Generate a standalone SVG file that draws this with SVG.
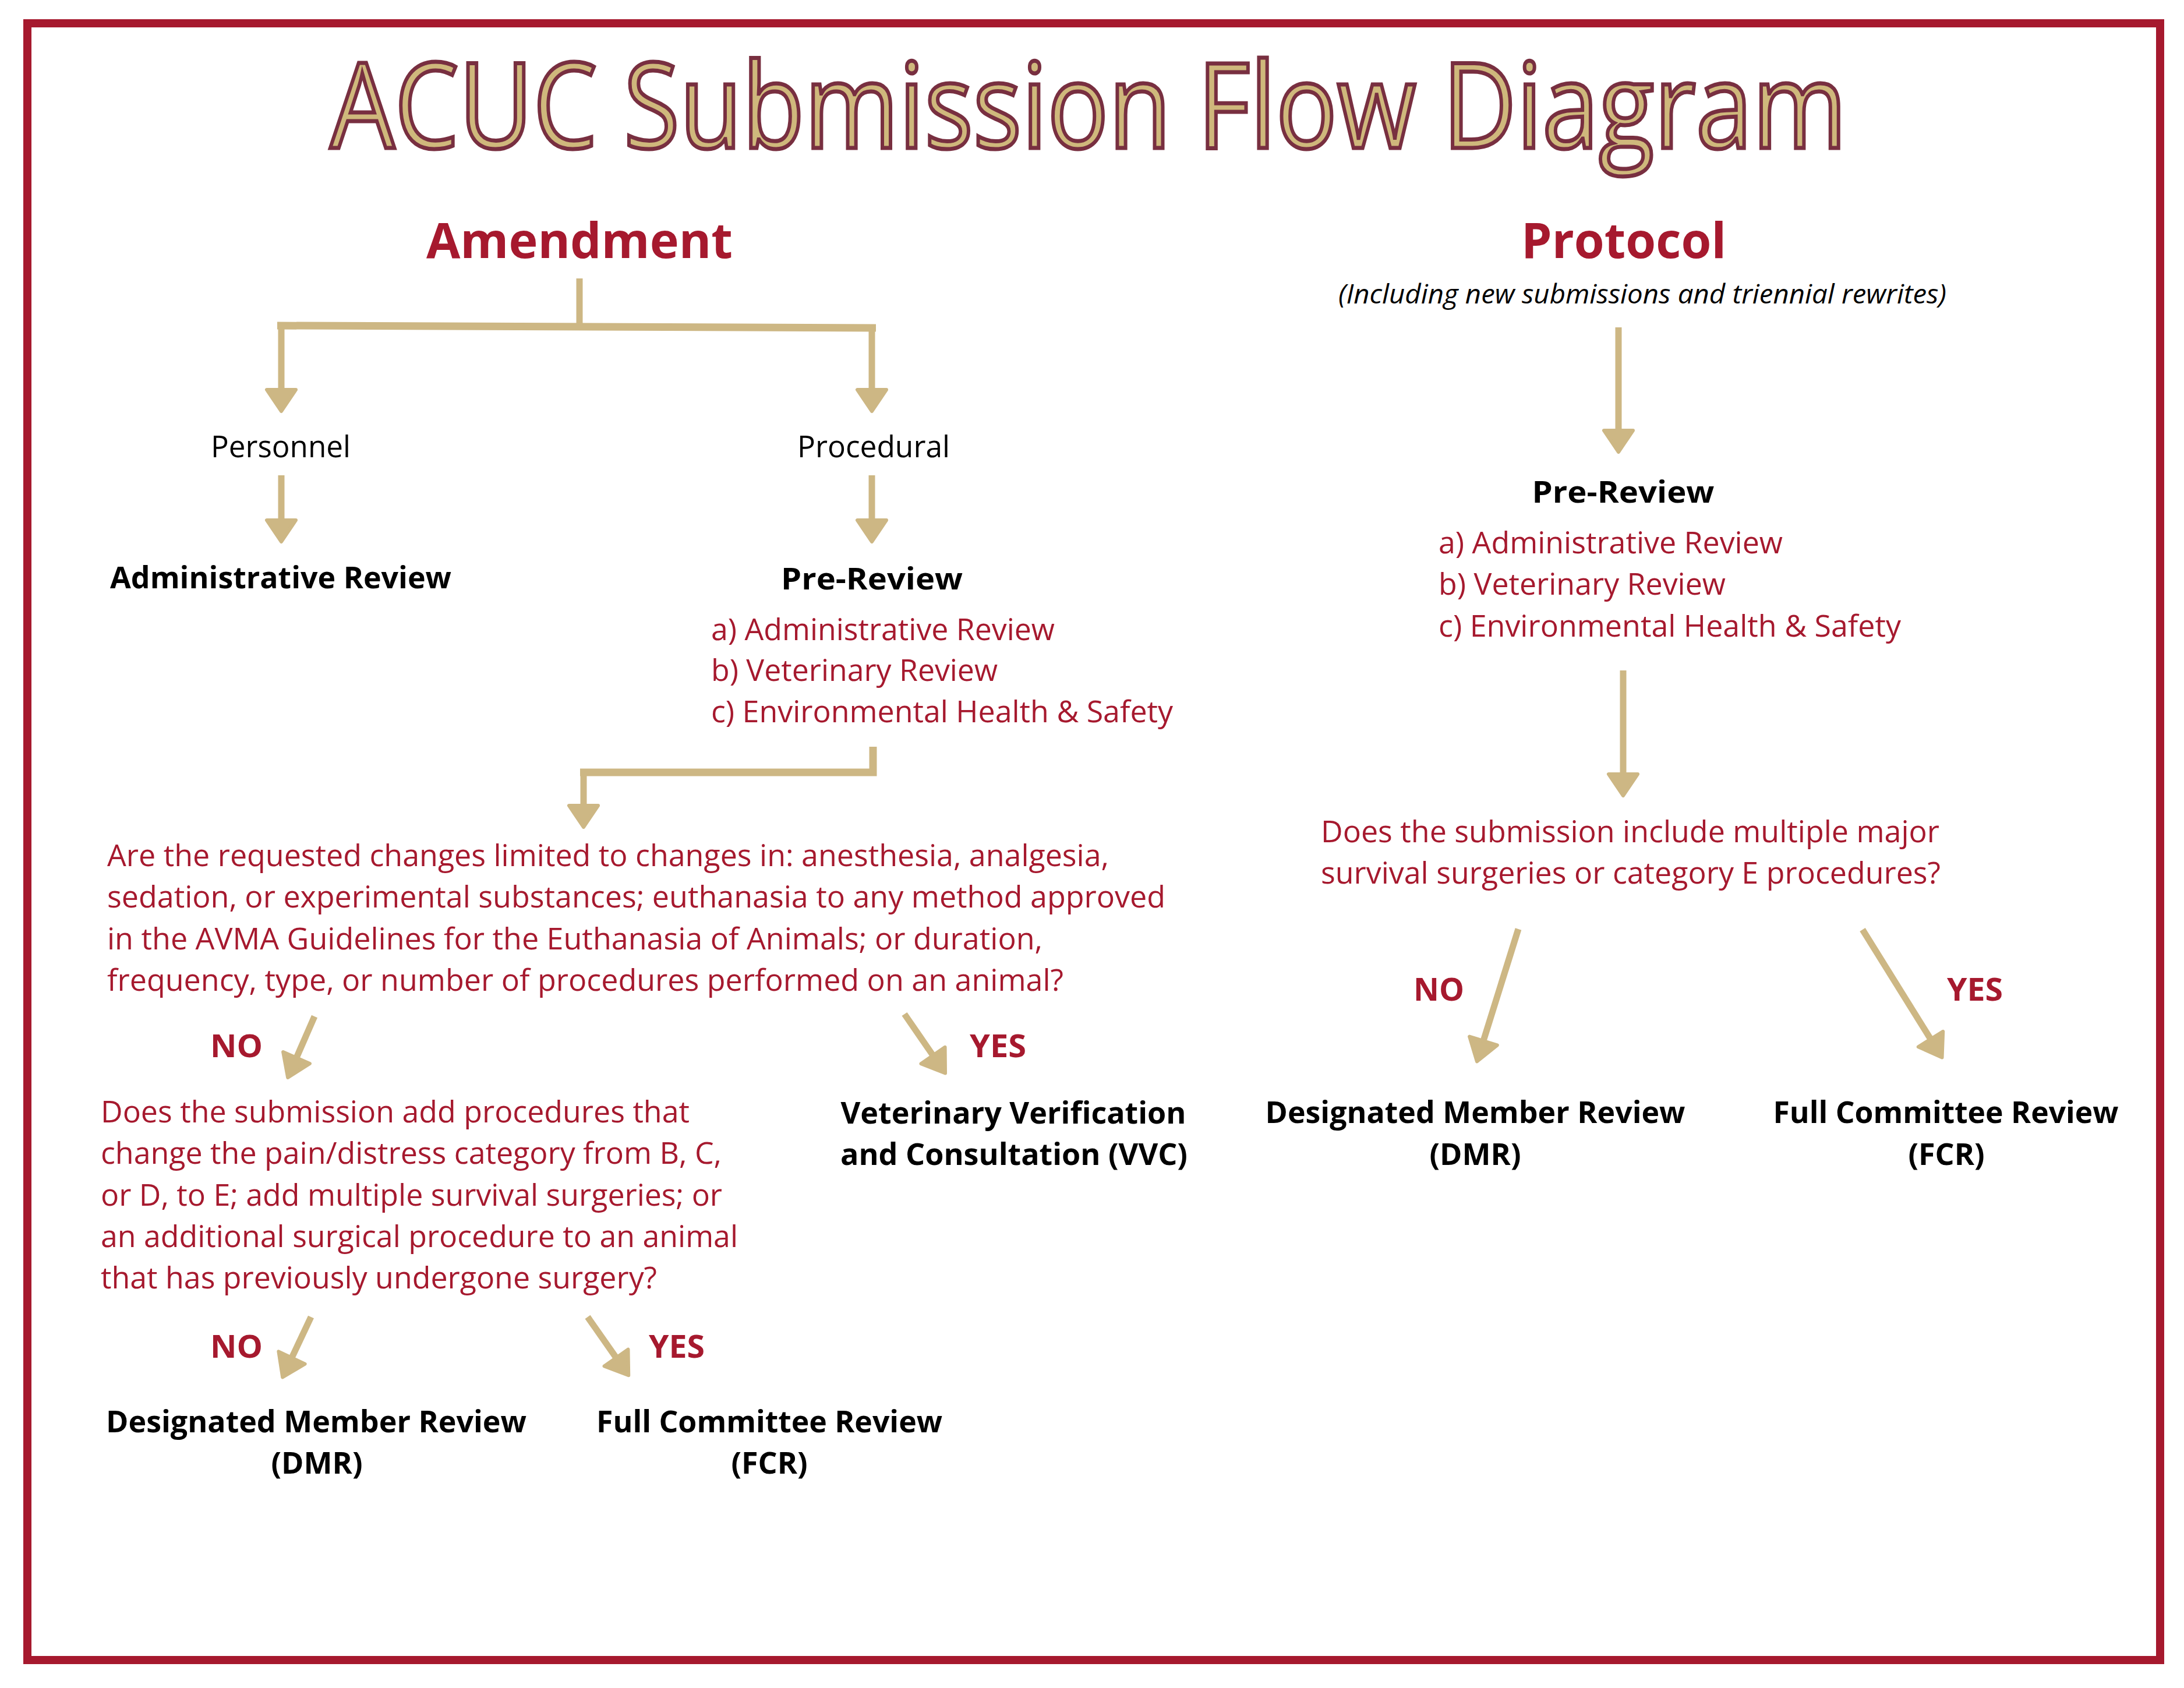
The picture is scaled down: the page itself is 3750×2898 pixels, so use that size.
<svg xmlns="http://www.w3.org/2000/svg" width="3750" height="2898" viewBox="0 0 3750 2898">
<style>
text{font-family:'Open Sans','Noto Sans','DejaVu Sans',sans-serif;}
.n{font-size:51px;fill:#000;}
.r{font-size:51px;fill:#A6192E;}
.b{font-size:52px;font-weight:700;fill:#000;}
.lab{font-size:53px;font-weight:700;fill:#A6192E;}
.h{font-size:84px;font-weight:700;fill:#A6192E;}
.c{text-anchor:middle;}
.ln{stroke:#CDB784;fill:none;stroke-width:11;}
.thick{stroke-width:13;}
</style>
<defs>
<marker id="ah" markerUnits="userSpaceOnUse" markerWidth="60" markerHeight="70" refX="3" refY="35" orient="auto" style="overflow:visible">
<path d="M3,10 L40,35 L3,60 Z" fill="#CDB784" stroke="#CDB784" stroke-width="6" stroke-linejoin="round"/>
</marker>
</defs>
<rect x="47" y="40" width="3662" height="2810" fill="#fff" stroke="#A6192E" stroke-width="14"/>

<g id="title">
<text x="567" y="254" font-size="204" fill="#CFB87C" stroke="#782F40" stroke-width="7" textLength="2604" lengthAdjust="spacingAndGlyphs">ACUC Submission Flow Diagram</text>
</g>

<g id="connectors">
<line class="ln" x1="995" y1="478" x2="995" y2="560" stroke-width="10"/>
<line class="ln thick" x1="476" y1="559" x2="1504" y2="563"/>
<line class="ln" x1="483" y1="559" x2="483" y2="669" marker-end="url(#ah)"/>
<line class="ln" x1="1497" y1="563" x2="1497" y2="669" marker-end="url(#ah)"/>
<line class="ln" x1="483" y1="816" x2="483" y2="893" marker-end="url(#ah)"/>
<line class="ln" x1="1497" y1="816" x2="1497" y2="893" marker-end="url(#ah)"/>
<polyline class="ln thick" points="1499,1282 1499,1326 996,1326"/>
<line class="ln" x1="1002" y1="1320" x2="1002" y2="1383" marker-end="url(#ah)"/>
<line class="ln" x1="540" y1="1745" x2="509" y2="1816" marker-end="url(#ah)"/>
<line class="ln" x1="1553" y1="1741" x2="1602" y2="1812" marker-end="url(#ah)"/>
<line class="ln" x1="534" y1="2261" x2="501" y2="2331" marker-end="url(#ah)"/>
<line class="ln" x1="1009" y1="2261" x2="1058" y2="2331" marker-end="url(#ah)"/>
<line class="ln" x1="2779" y1="562" x2="2779" y2="739" marker-end="url(#ah)"/>
<line class="ln" x1="2787" y1="1151" x2="2787" y2="1329" marker-end="url(#ah)"/>
<line class="ln" x1="2607" y1="1595" x2="2547" y2="1787" marker-end="url(#ah)"/>
<line class="ln" x1="3198" y1="1596" x2="3315" y2="1784" marker-end="url(#ah)"/>
</g>

<g id="amendment">
<text class="h c" x="995" y="443" textLength="526" lengthAdjust="spacingAndGlyphs">Amendment</text>
</g>
<g id="protocol">
<text class="h c" x="2788" y="443" textLength="352" lengthAdjust="spacingAndGlyphs">Protocol</text>
<text class="c" x="2820" y="521" font-size="46" font-style="italic" fill="#000" textLength="1044" lengthAdjust="spacingAndGlyphs">(Including new submissions and triennial rewrites)</text>
</g>

<g id="personnel">
<text class="n c" x="482" y="785" textLength="240" lengthAdjust="spacingAndGlyphs">Personnel</text>
</g>
<g id="procedural">
<text class="n c" x="1500" y="785" textLength="262" lengthAdjust="spacingAndGlyphs">Procedural</text>
</g>
<g id="admin-review">
<text class="b c" x="482" y="1010" textLength="586" lengthAdjust="spacingAndGlyphs">Administrative Review</text>
</g>
<g id="pre-review-amendment">
<text class="b c" x="1497" y="1012" textLength="312" lengthAdjust="spacingAndGlyphs">Pre-Review</text>
<text class="r" x="1221" y="1099" textLength="590" lengthAdjust="spacingAndGlyphs">a) Administrative Review</text>
<text class="r" x="1221" y="1169" textLength="492" lengthAdjust="spacingAndGlyphs">b) Veterinary Review</text>
<text class="r" x="1221" y="1240" textLength="793" lengthAdjust="spacingAndGlyphs">c) Environmental Health &amp; Safety</text>
</g>

<g id="question-1">
<text class="r" x="184" y="1487" textLength="1720" lengthAdjust="spacingAndGlyphs">Are the requested changes limited to changes in: anesthesia, analgesia,</text>
<text class="r" x="184" y="1558" textLength="1817" lengthAdjust="spacingAndGlyphs">sedation, or experimental substances; euthanasia to any method approved</text>
<text class="r" x="184" y="1630" textLength="1606" lengthAdjust="spacingAndGlyphs">in the AVMA Guidelines for the Euthanasia of Animals; or duration,</text>
<text class="r" x="184" y="1701" textLength="1642" lengthAdjust="spacingAndGlyphs">frequency, type, or number of procedures performed on an animal?</text>
</g>

<g id="no-1"><text class="lab" x="361" y="1815" textLength="90" lengthAdjust="spacingAndGlyphs">NO</text></g>
<g id="yes-1"><text class="lab" x="1665" y="1815" textLength="97" lengthAdjust="spacingAndGlyphs">YES</text></g>

<g id="vvc">
<text class="b c" x="1740" y="1929" textLength="593" lengthAdjust="spacingAndGlyphs">Veterinary Verification</text>
<text class="b c" x="1741" y="2000" textLength="596" lengthAdjust="spacingAndGlyphs">and Consultation (VVC)</text>
</g>

<g id="question-2">
<text class="r" x="173" y="1927" textLength="1011" lengthAdjust="spacingAndGlyphs">Does the submission add procedures that</text>
<text class="r" x="173" y="1998" textLength="1066" lengthAdjust="spacingAndGlyphs">change the pain/distress category from B, C,</text>
<text class="r" x="173" y="2070" textLength="1067" lengthAdjust="spacingAndGlyphs">or D, to E; add multiple survival surgeries; or</text>
<text class="r" x="173" y="2141" textLength="1094" lengthAdjust="spacingAndGlyphs">an additional surgical procedure to an animal</text>
<text class="r" x="173" y="2212" textLength="955" lengthAdjust="spacingAndGlyphs">that has previously undergone surgery?</text>
</g>

<g id="no-2"><text class="lab" x="361" y="2331" textLength="90" lengthAdjust="spacingAndGlyphs">NO</text></g>
<g id="yes-2"><text class="lab" x="1114" y="2331" textLength="96" lengthAdjust="spacingAndGlyphs">YES</text></g>

<g id="dmr-amendment">
<text class="b c" x="543" y="2459" textLength="722" lengthAdjust="spacingAndGlyphs">Designated Member Review</text>
<text class="b c" x="544" y="2530">(DMR)</text>
</g>
<g id="fcr-amendment">
<text class="b c" x="1321" y="2459" textLength="594" lengthAdjust="spacingAndGlyphs">Full Committee Review</text>
<text class="b c" x="1321" y="2530">(FCR)</text>
</g>

<g id="pre-review-protocol">
<text class="b c" x="2787" y="863" textLength="313" lengthAdjust="spacingAndGlyphs">Pre-Review</text>
<text class="r" x="2470" y="950" textLength="591" lengthAdjust="spacingAndGlyphs">a) Administrative Review</text>
<text class="r" x="2470" y="1021" textLength="493" lengthAdjust="spacingAndGlyphs">b) Veterinary Review</text>
<text class="r" x="2470" y="1093" textLength="794" lengthAdjust="spacingAndGlyphs">c) Environmental Health &amp; Safety</text>
</g>

<g id="question-3">
<text class="r" x="2268" y="1446" textLength="1062" lengthAdjust="spacingAndGlyphs">Does the submission include multiple major</text>
<text class="r" x="2268" y="1517" textLength="1064" lengthAdjust="spacingAndGlyphs">survival surgeries or category E procedures?</text>
</g>

<g id="no-3"><text class="lab" x="2427" y="1718" textLength="87" lengthAdjust="spacingAndGlyphs">NO</text></g>
<g id="yes-3"><text class="lab" x="3343" y="1718" textLength="96" lengthAdjust="spacingAndGlyphs">YES</text></g>

<g id="dmr-protocol">
<text class="b c" x="2533" y="1928" textLength="721" lengthAdjust="spacingAndGlyphs">Designated Member Review</text>
<text class="b c" x="2533" y="2000">(DMR)</text>
</g>
<g id="fcr-protocol">
<text class="b c" x="3341" y="1928" textLength="593" lengthAdjust="spacingAndGlyphs">Full Committee Review</text>
<text class="b c" x="3342" y="2000">(FCR)</text>
</g>
</svg>
